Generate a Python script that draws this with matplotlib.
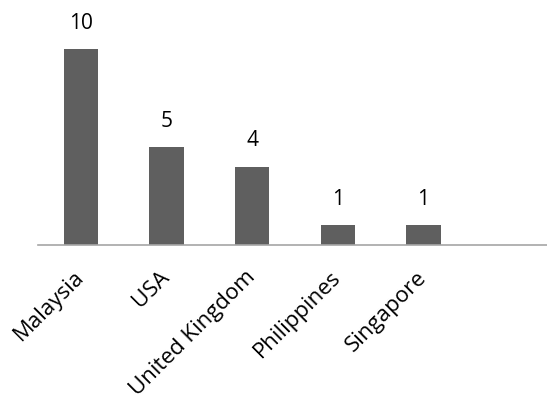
import matplotlib
matplotlib.use("Agg")
import matplotlib.pyplot as plt

countries = ["Malaysia", "USA", "United Kingdom", "Philippines", "Singapore"]
counts = [10, 5, 4, 1, 1]
# one empty slot on the right of the category axis
n_slots = 6

plt.rcParams["font.family"] = ["Open Sans", "DejaVu Sans"]

fig = plt.figure(figsize=(5.47, 3.99), dpi=100)
ax = fig.add_axes([38 / 547, 154 / 399, 514 / 547, 235.2 / 399])

x = list(range(len(countries)))
bars = ax.bar(x, counts, width=0.4, color="#5f5f5f", zorder=2)

for b, v in zip(bars, counts):
    ax.annotate(str(v), (b.get_x() + b.get_width() / 2, v),
                xytext=(0, 11), textcoords="offset points",
                ha="center", va="bottom", fontsize=15, color="#000000")

ax.set_xlim(-0.5, n_slots - 0.5)
ax.set_ylim(0, 12)
ax.set_xticks(x)
ax.set_xticklabels(countries, rotation=45, ha="right", va="center",
                   rotation_mode="anchor", fontsize=16)
ax.tick_params(axis="x", length=0, pad=21)
ax.set_yticks([])

for side in ("top", "right", "left"):
    ax.spines[side].set_visible(False)
ax.spines["bottom"].set_color("#a6a6a6")
ax.spines["bottom"].set_linewidth(1.2)

fig.savefig("out.png", dpi=100)
